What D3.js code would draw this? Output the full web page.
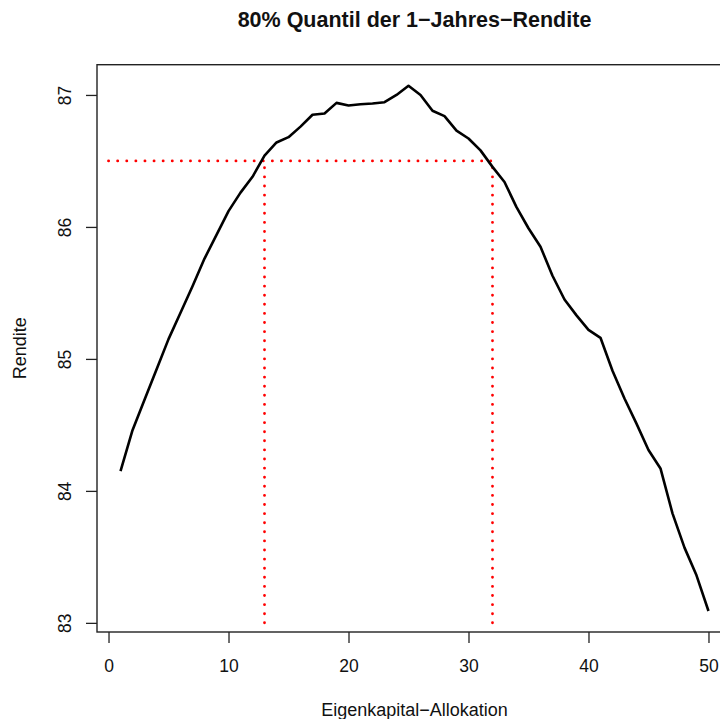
<!DOCTYPE html>
<html lang="en">
<head>
    <meta charset="UTF-8">
    <title>80% Quantil der 1-Jahres-Rendite</title>
    <script src="https://d3js.org/d3.v7.min.js"></script>
    <style>
        body { margin: 0; background: #fff; }
        svg { display: block; font-family: "Liberation Sans", Arial, sans-serif; }
        .tick text { font-size: 17.5px; fill: #111; }
        .tick line { stroke: #222; stroke-width: 1.3; }
    </style>
</head>
<body>
<script>
    // Eigenkapital-Allokation (x) and 80% quantile of 1-year return (y)
    const allocation = d3.range(1, 51);
    const rendite = [
        84.15, 84.46, 84.69, 84.92, 85.15, 85.35, 85.55, 85.76, 85.94, 86.12,
        86.26, 86.38, 86.54, 86.64, 86.68, 86.76, 86.85, 86.86, 86.94, 86.92,
        86.93, 86.935, 86.945, 87.00, 87.07, 87.00, 86.88, 86.84, 86.73, 86.67,
        86.58, 86.455, 86.34, 86.15, 85.99, 85.85, 85.63, 85.45, 85.33, 85.22,
        85.16, 84.91, 84.70, 84.51, 84.31, 84.17, 83.83, 83.57, 83.36, 83.09
    ];
    const xTicks = [0, 10, 20, 30, 40, 50];
    const yTicks = [83, 84, 85, 86, 87];
    const threshold = 86.5;
    const lowerBound = 13;
    const upperBound = 32;

    const width = 720, height = 719;
    const plotLeft = 97, plotRight = 732, plotTop = 64.7, plotBottom = 632;

    const svg = d3.select("body").append("svg")
        .attr("width", width)
        .attr("height", height);

    // R style axis ranges: data range padded by 4%
    const xExt = d3.extent(allocation), yExt = d3.extent(rendite);
    const xPad = (xExt[1] - xExt[0]) * 0.04, yPad = (yExt[1] - yExt[0]) * 0.04;
    const x = d3.scaleLinear().domain([xExt[0] - xPad, xExt[1] + xPad]).range([plotLeft, plotRight]);
    const y = d3.scaleLinear().domain([yExt[0] - yPad, yExt[1] + yPad]).range([plotBottom, plotTop]);

    // x axis
    const gx = svg.append("g")
        .attr("transform", `translate(0,${plotBottom})`)
        .call(d3.axisBottom(x).tickValues(xTicks).tickSize(11).tickPadding(17).tickFormat(d3.format("d")));
    gx.select(".domain").remove();

    // y axis, labels turned like in R
    const gy = svg.append("g")
        .attr("transform", `translate(${plotLeft},0)`)
        .call(d3.axisLeft(y).tickValues(yTicks).tickSize(11).tickFormat(d3.format("d")));
    gy.select(".domain").remove();
    gy.selectAll(".tick text")
        .attr("x", null).attr("dy", null)
        .attr("text-anchor", "middle")
        .attr("transform", "translate(-26,0) rotate(-90)");

    // plot box
    svg.append("rect")
        .attr("x", plotLeft).attr("y", plotTop)
        .attr("width", plotRight - plotLeft).attr("height", plotBottom - plotTop)
        .attr("fill", "none")
        .attr("stroke", "#222")
        .attr("stroke-width", 1.4);

    // red dotted guides
    const guides = [
        [[0, threshold], [upperBound, threshold]],
        [[lowerBound, yTicks[0]], [lowerBound, threshold]],
        [[upperBound, yTicks[0]], [upperBound, threshold]]
    ];
    svg.selectAll("line.guide")
        .data(guides)
        .enter().append("line")
        .attr("class", "guide")
        .attr("x1", d => x(d[0][0])).attr("y1", d => y(d[0][1]))
        .attr("x2", d => x(d[1][0])).attr("y2", d => y(d[1][1]))
        .attr("stroke", "#ff0000")
        .attr("stroke-width", 2.8)
        .attr("stroke-linecap", "round")
        .attr("stroke-dasharray", "0.1 9");

    // the curve
    const line = d3.line()
        .x((d, i) => x(allocation[i]))
        .y(d => y(d));
    svg.append("path")
        .datum(rendite)
        .attr("d", line)
        .attr("fill", "none")
        .attr("stroke", "#000")
        .attr("stroke-width", 2.6)
        .attr("stroke-linejoin", "round");

    // titles
    svg.append("text")
        .attr("x", (plotLeft + plotRight) / 2).attr("y", 27)
        .attr("text-anchor", "middle")
        .attr("font-size", "21.5px")
        .attr("font-weight", "bold")
        .attr("fill", "#111")
        .text("80% Quantil der 1\u2212Jahres\u2212Rendite");

    svg.append("text")
        .attr("x", (plotLeft + plotRight) / 2).attr("y", 716)
        .attr("text-anchor", "middle")
        .attr("font-size", "18px")
        .attr("fill", "#111")
        .text("Eigenkapital\u2212Allokation");

    svg.append("text")
        .attr("transform", `translate(26,${(plotTop + plotBottom) / 2}) rotate(-90)`)
        .attr("text-anchor", "middle")
        .attr("font-size", "18px")
        .attr("fill", "#111")
        .text("Rendite");
</script>
</body>
</html>
